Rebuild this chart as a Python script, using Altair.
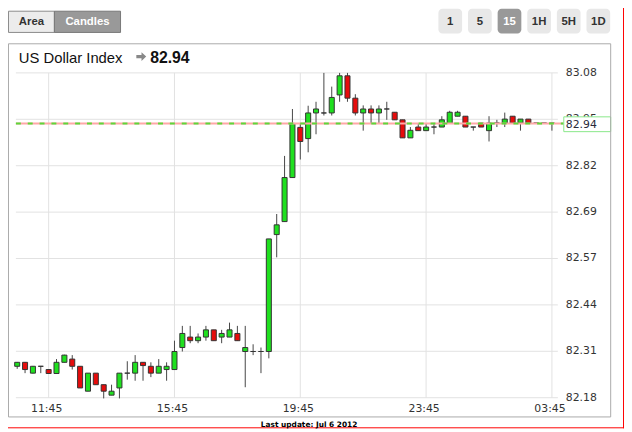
import altair as alt
import pandas as pd

# ---------------- data (15-minute candles, 10:45 -> 03:45) ----------------
opens = [82.267, 82.278, 82.248, 82.267, 82.258, 82.247, 82.278, 82.287, 82.267, 82.198,
         82.248, 82.216, 82.187, 82.207, 82.248, 82.248, 82.278, 82.267, 82.248, 82.258,
         82.258, 82.319, 82.348, 82.338, 82.348, 82.368, 82.348, 82.348, 82.358, 82.308,
         82.308, 82.308, 82.308, 82.632, 82.668, 82.790, 82.929, 82.898, 82.969, 82.969,
         82.969, 83.019, 83.072, 83.010, 82.969, 82.980, 82.969, 82.980, 82.971, 82.950,
         82.900, 82.930, 82.920, 82.930, 82.930, 82.940, 82.960, 82.960, 82.930, 82.941,
         82.920, 82.941, 82.941, 82.960, 82.941, 82.952, 82.941, 82.941, 82.941]
highs = [82.279, 82.279, 82.268, 82.267, 82.258, 82.287, 82.299, 82.298, 82.267, 82.248,
         82.248, 82.216, 82.216, 82.248, 82.281, 82.298, 82.278, 82.278, 82.287, 82.278,
         82.338, 82.379, 82.379, 82.358, 82.379, 82.368, 82.368, 82.388, 82.379, 82.379,
         82.328, 82.319, 82.620, 82.689, 82.850, 82.980, 82.940, 82.989, 83.000, 83.080,
         83.042, 83.080, 83.080, 83.021, 82.990, 82.990, 82.990, 83.000, 82.971, 82.950,
         82.930, 82.940, 82.940, 82.940, 82.960, 82.975, 82.975, 82.960, 82.930, 82.941,
         82.960, 82.950, 82.970, 82.960, 82.952, 82.952, 82.941, 82.941, 82.941]
lows = [82.260, 82.248, 82.247, 82.248, 82.247, 82.247, 82.278, 82.258, 82.207, 82.198,
        82.216, 82.178, 82.187, 82.178, 82.230, 82.227, 82.227, 82.237, 82.248, 82.227,
        82.258, 82.308, 82.331, 82.331, 82.338, 82.338, 82.331, 82.348, 82.338, 82.209,
        82.298, 82.248, 82.289, 82.569, 82.668, 82.790, 82.840, 82.860, 82.910, 82.962,
        82.962, 83.000, 83.000, 82.962, 82.920, 82.941, 82.941, 82.950, 82.950, 82.900,
        82.900, 82.920, 82.920, 82.910, 82.930, 82.940, 82.960, 82.930, 82.920, 82.930,
        82.890, 82.930, 82.930, 82.941, 82.920, 82.941, 82.941, 82.941, 82.920]
closes = [82.278, 82.258, 82.267, 82.267, 82.247, 82.278, 82.298, 82.267, 82.207, 82.248,
          82.216, 82.198, 82.198, 82.248, 82.248, 82.278, 82.269, 82.248, 82.267, 82.267,
          82.308, 82.358, 82.338, 82.348, 82.368, 82.338, 82.358, 82.368, 82.338, 82.319,
          82.308, 82.308, 82.620, 82.659, 82.790, 82.940, 82.890, 82.969, 82.980, 82.969,
          83.012, 83.072, 83.010, 82.969, 82.980, 82.969, 82.980, 82.980, 82.950, 82.900,
          82.921, 82.920, 82.930, 82.930, 82.950, 82.971, 82.971, 82.930, 82.930, 82.930,
          82.941, 82.941, 82.952, 82.941, 82.952, 82.941, 82.941, 82.941, 82.941]

x_tick_pos = [4, 20, 36, 52, 68]
x_tick_labels = ["11:45", "15:45", "19:45", "23:45", "03:45"]
y_ticks = [82.18, 82.3086, 82.4371, 82.5657, 82.6943, 82.8229, 82.9514, 83.08]
last_price = 82.94
title_text = "US Dollar Index"
view_buttons = ["Area", "Candles"]
active_view = "Candles"
period_buttons = ["1", "5", "15", "1H", "5H", "1D"]
active_period = "15"
update_text = "Last update: Jul 6 2012"

# ---------------- styles ----------------
GREEN = "#1fe01f"
RED = "#e60c0c"
GRID = "#e2e2e2"
FONT_AX = "DejaVu Sans"
FONT_UI = "Liberation Sans"
W, H = 543, 329

df = pd.DataFrame({"i": list(range(len(opens))), "open": opens, "high": highs,
                   "low": lows, "close": closes})
one = pd.DataFrame({"k": [0]})
price_df = pd.DataFrame({"price": [last_price]})
xt_df = pd.DataFrame({"p": x_tick_pos, "label": x_tick_labels})
yt_df = pd.DataFrame({"v": y_ticks})

x_scale = alt.Scale(domain=[-0.165, 68], nice=False, zero=False)
y_scale = alt.Scale(domain=[82.18, 83.08], nice=False, zero=False)

# view origin in page coordinates
OX, OY = 16, 71


def px(v):
    return v - OX


def py(v):
    return v - OY


def rect(x1, x2, y1, y2, **kw):
    return alt.Chart(one).mark_rect(**kw).encode(
        x=alt.value(px(x1)), x2=alt.value(px(x2)),
        y=alt.value(py(y1)), y2=alt.value(py(y2)))


def text(s, x, y, **kw):
    return alt.Chart(one).mark_text(text=s, **kw).encode(
        x=alt.value(px(x)), y=alt.value(py(y)))


# ---------------- axes drawn as marks ----------------
grid_h = alt.Chart(yt_df).mark_rule(color=GRID, strokeWidth=1).encode(
    y=alt.Y("v:Q", scale=y_scale, axis=None), x=alt.value(0), x2=alt.value(W + 6))
grid_v = alt.Chart(xt_df).mark_rule(color=GRID, strokeWidth=1).encode(
    x=alt.X("p:Q", scale=x_scale, axis=None), y=alt.value(0), y2=alt.value(H))
y_labels = alt.Chart(yt_df).mark_text(align="left", baseline="middle", font=FONT_AX,
                                      fontSize=11, color="#333333").encode(
    y=alt.Y("v:Q", scale=y_scale, axis=None), x=alt.value(px(573)),
    text=alt.Text("v:Q", format=".2f"))
x_labels = alt.Chart(xt_df).mark_text(align="center", baseline="alphabetic", font=FONT_AX,
                                      fontSize=11, color="#333333", dx=-2).encode(
    x=alt.X("p:Q", scale=x_scale, axis=None), y=alt.value(py(414.5)), text="label:N")

# ---------------- candles ----------------
wicks = alt.Chart(df).mark_rule(color="#444444", strokeWidth=1).encode(
    x=alt.X("i:Q", scale=x_scale, axis=None),
    y=alt.Y("low:Q", scale=y_scale, axis=None),
    y2="high:Q",
)

bodies = alt.Chart(df).transform_calculate(
    x0="datum.i - 0.32", x1="datum.i + 0.32"
).mark_rect(stroke="#333333", strokeWidth=1).encode(
    x=alt.X("x0:Q", scale=x_scale, axis=None), x2="x1:Q",
    y=alt.Y("open:Q", scale=y_scale, axis=None), y2="close:Q",
    color=alt.condition("datum.close >= datum.open", alt.value(GREEN), alt.value(RED)),
)

# ---------------- last price line and label ----------------
line_pink = alt.Chart(price_df).mark_rule(color="#ffa8a8", strokeWidth=2).encode(
    y=alt.Y("price:Q", scale=y_scale, axis=None), x=alt.value(0), x2=alt.value(px(571)))
line_green = alt.Chart(price_df).mark_rule(color="#5cd83a", strokeWidth=2,
                                           strokeDash=[5, 7]).encode(
    y=alt.Y("price:Q", scale=y_scale, axis=None), x=alt.value(0), x2=alt.value(px(571)))

price_box = rect(571, 618.5, 115.5, 130.5, fill="white", stroke="#88e888", strokeWidth=1)
price_box_text = text(f"{last_price:.2f}", 573, 127, align="left", baseline="alphabetic",
                      font=FONT_AX, fontSize=11, color="#2a2a3a")

# ---------------- chrome ----------------
layers = []
layers.append(rect(8.5, 618.5, 41.5, 419.5, fill="white", fillOpacity=0,
                   stroke="#aaaaaa", strokeWidth=1))

vb_x = [(8.5, 55), (55, 122)]
for name, (a, b) in zip(view_buttons, vb_x):
    active = name == active_view
    layers.append(rect(a, b, 8.5, 30, fill="#999999" if active else "#ececec",
                       stroke="#777777" if active else "#8a8a8a", strokeWidth=1))
    layers.append(text(name, (a + b) / 2, 19.5, align="center", baseline="middle",
                       font=FONT_UI, fontSize=11.5, fontWeight="bold",
                       color="white" if active else "#333333"))

for k, name in enumerate(period_buttons):
    a = 444 + 30 * k
    active = name == active_period
    layers.append(rect(a, a + 24, 6, 31, fill="#999999" if active else "#e8e8e8",
                       cornerRadius=4))
    layers.append(text(name, a + 12, 19, align="center", baseline="middle",
                       font=FONT_UI, fontSize=11.5, fontWeight="bold",
                       color="white" if active else "#333333"))

layers.append(text(title_text, 19, 61, align="left", baseline="alphabetic",
                   font=FONT_UI, fontSize=15, color="#111111"))
arrow_path = "M-1,-0.33L0.05,-0.33L0.05,-0.9L1,0L0.05,0.9L0.05,0.33L-1,0.33Z"
layers.append(alt.Chart(one).mark_point(shape=arrow_path, filled=True, size=100,
                                        color="#888888", opacity=1).encode(
    x=alt.value(px(143)), y=alt.value(py(54.5))))
layers.append(text(f"{last_price:.2f}", 152, 61, align="left", baseline="alphabetic",
                   font=FONT_UI, fontSize=16, fontWeight="bold", color="#111111"))

# red page frame (right and bottom edges) and footer
layers.append(alt.Chart(one).mark_rule(color="#ff0000", strokeWidth=1).encode(
    x=alt.value(px(631.5)), y=alt.value(py(0)), y2=alt.value(py(431))))
layers.append(alt.Chart(one).mark_rule(color="#ff0000", strokeWidth=1).encode(
    x=alt.value(px(0)), x2=alt.value(px(632)), y=alt.value(py(430.5))))
layers.append(text(update_text, 313, 429.5, align="center", baseline="alphabetic",
                   font=FONT_AX, fontSize=7.5, fontWeight="bold", color="#000000"))

chart = alt.layer(
    grid_h, grid_v, y_labels, x_labels, wicks, bodies, line_pink, line_green,
    price_box, price_box_text, *layers
).properties(
    width=W, height=H,
    padding={"left": 8, "top": 63, "right": 73, "bottom": 32},
    autosize=alt.AutoSizeParams(type="none"),
    background="white",
).configure_view(stroke=None)

chart.save("out.html", embed_options={"renderer": "svg", "actions": False})
